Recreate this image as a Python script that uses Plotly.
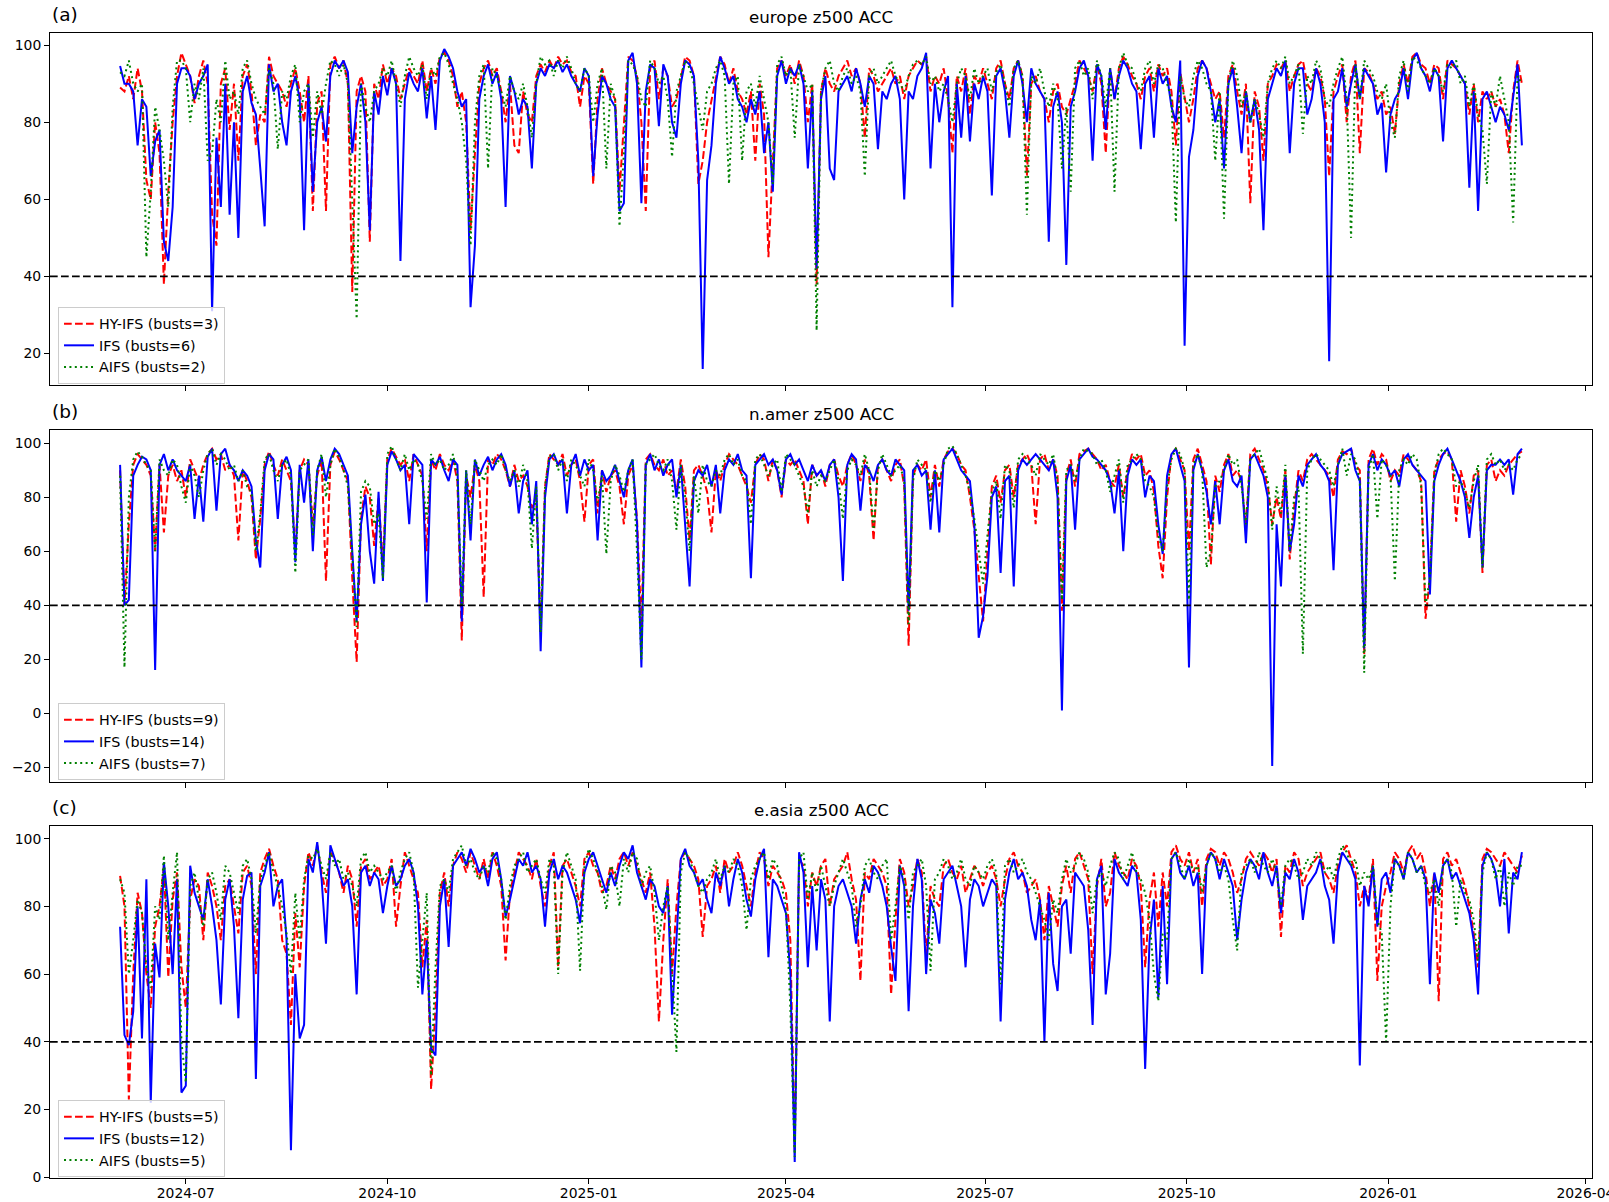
import pandas as pd
import plotly.graph_objects as go

# ---------------- data ----------------
START = "2024-06-01"      # first verification date
STEP_DAYS = 2             # values sampled every 2 days
THRESHOLD = 40            # bust threshold

regions = ["europe", "n.amer", "e.asia"]
panel_tags = ["(a)", "(b)", "(c)"]
models = ["HY-IFS", "IFS", "AIFS"]
busts_hyifs = [3, 9, 5]
busts_ifs = [6, 14, 12]
busts_aifs = [2, 7, 5]

# ---- europe ----
europe_hyifs = [
    89, 88, 92, 86, 94, 88, 65, 60, 80, 72, 38, 62, 80, 92, 98, 95, 92, 85, 92, 96,
    90, 56, 48, 90, 94, 78, 90, 70, 92, 95, 88, 74, 82, 80, 97, 92, 90, 88, 84, 90,
    94, 88, 80, 92, 57, 85, 88, 57, 95, 97, 94, 96, 90, 36, 88, 92, 88, 49, 90, 86,
    95, 90, 94, 92, 86, 90, 94, 92, 90, 96, 88, 94, 90, 97, 98, 96, 92, 84, 88, 80,
    52, 72, 90, 94, 96, 92, 94, 88, 80, 90, 74, 72, 88, 82, 80, 92, 95, 93, 96, 94,
    97, 95, 96, 93, 92, 84, 92, 90, 64, 86, 94, 90, 88, 86, 62, 80, 97, 96, 92, 80,
    57, 94, 96, 86, 94, 92, 84, 86, 92, 97, 96, 92, 64, 70, 80, 86, 92, 97, 95, 90,
    94, 88, 86, 82, 88, 70, 90, 82, 45, 70, 94, 96, 92, 95, 90, 96, 92, 80, 90, 38,
    88, 94, 90, 88, 92, 94, 96, 92, 94, 90, 76, 94, 92, 88, 90, 92, 94, 90, 92, 86,
    92, 94, 96, 95, 97, 88, 92, 90, 94, 86, 72, 92, 88, 94, 82, 92, 90, 94, 90, 86,
    94, 96, 90, 86, 94, 96, 92, 66, 90, 92, 88, 86, 80, 88, 90, 84, 82, 86, 90, 96,
    94, 92, 88, 95, 90, 72, 94, 86, 94, 97, 95, 92, 90, 86, 92, 94, 88, 95, 92, 94,
    88, 74, 93, 86, 80, 86, 94, 96, 94, 90, 86, 88, 76, 92, 95, 88, 82, 90, 59, 88,
    84, 70, 90, 92, 95, 94, 96, 88, 92, 95, 96, 90, 88, 94, 92, 86, 66, 88, 92, 95,
    80, 92, 96, 72, 94, 93, 90, 86, 88, 82, 84, 77, 90, 95, 90, 97, 98, 95, 94, 90,
    95, 94, 86, 96, 95, 94, 92, 90, 82, 90, 80, 88, 86, 88, 84, 86, 82, 72, 88, 96,
    90]
europe_ifs = [
    94.6, 90, 90, 88, 74, 86, 84, 66, 75, 78, 49, 44, 58, 90, 94, 94, 92, 86, 90, 92,
    95, 31, 76, 58, 90, 56, 80, 50, 88, 92, 85, 82, 68, 53, 95, 88, 90, 80, 74, 88,
    92, 86, 52, 90, 62, 80, 84, 75, 92, 96, 94, 96, 93, 72, 84, 90, 80, 52, 88, 82,
    92, 87, 94, 90, 44, 86, 93, 90, 88, 94, 81, 92, 78, 96, 99, 97, 94, 88, 84, 86,
    32, 48, 86, 92, 95, 90, 93, 86, 58, 92, 88, 82, 86, 84, 68, 90, 94, 92, 95, 94,
    96, 93, 95, 92, 90, 88, 94, 92, 66, 82, 92, 90, 86, 84, 57, 59, 96, 98, 90, 59,
    88, 95, 94, 79, 95, 92, 80, 76, 90, 96, 95, 92, 70, 16, 65, 74, 90, 97, 94, 90,
    92, 86, 84, 80, 86, 82, 88, 72, 80, 62, 92, 96, 90, 94, 92, 95, 90, 68, 88, 42,
    86, 92, 68, 65, 88, 90, 92, 88, 94, 90, 84, 92, 90, 73, 88, 86, 90, 92, 86, 60,
    88, 86, 92, 94, 98, 68, 90, 80, 88, 92, 32, 90, 76, 92, 75, 90, 86, 92, 88, 61,
    92, 94, 88, 76, 92, 96, 90, 80, 94, 90, 88, 86, 49, 84, 88, 80, 43, 84, 88, 94,
    96, 92, 70, 95, 92, 78, 94, 86, 92, 96, 94, 90, 88, 73, 90, 92, 76, 94, 90, 92,
    84, 80, 96, 22, 71, 78, 92, 96, 94, 88, 80, 86, 68, 90, 94, 84, 72, 88, 80, 86,
    78, 52, 86, 90, 94, 92, 96, 72, 90, 94, 94, 82, 86, 94, 90, 80, 18, 86, 88, 94,
    84, 90, 95, 86, 94, 92, 90, 82, 85, 67, 82, 86, 88, 94, 86, 96, 98, 94, 92, 88,
    94, 92, 75, 94, 96, 94, 92, 90, 63, 88, 57, 86, 88, 84, 80, 84, 82, 78, 86, 95,
    74]
europe_aifs = [
    93, 92, 96, 90, 88, 90, 45, 62, 84, 78, 70, 58, 84, 96, 96, 94, 80, 90, 86, 94,
    70, 72, 86, 80, 96, 86, 88, 82, 94, 96, 90, 86, 84, 82, 94, 90, 73, 88, 86, 92,
    95, 80, 88, 90, 76, 88, 82, 90, 96, 95, 92, 95, 90, 60, 29, 90, 84, 80, 88, 90,
    94, 92, 96, 90, 84, 92, 97, 94, 92, 95, 86, 94, 92, 97, 98, 95, 90, 86, 80, 70,
    48, 80, 92, 95, 68, 94, 92, 88, 84, 92, 88, 86, 90, 84, 76, 90, 97, 95, 96, 92,
    96, 94, 97, 94, 90, 88, 94, 92, 80, 90, 94, 68, 90, 86, 53, 72, 96, 95, 92, 86,
    84, 96, 94, 90, 92, 86, 71, 88, 92, 96, 94, 90, 84, 78, 88, 90, 94, 96, 92, 64,
    90, 92, 70, 88, 90, 84, 92, 86, 80, 64, 95, 97, 92, 94, 76, 95, 92, 88, 90, 26,
    88, 94, 96, 90, 88, 92, 94, 90, 92, 88, 66, 92, 94, 90, 92, 94, 96, 92, 90, 88,
    92, 95, 96, 95, 97, 90, 92, 88, 90, 86, 80, 90, 94, 92, 86, 94, 90, 92, 94, 88,
    93, 95, 90, 84, 94, 96, 92, 56, 92, 90, 94, 88, 84, 90, 86, 68, 84, 62, 94, 96,
    92, 94, 86, 96, 92, 84, 94, 62, 94, 98, 95, 94, 90, 88, 94, 96, 90, 95, 94, 90,
    86, 54, 92, 86, 84, 92, 96, 94, 90, 88, 70, 88, 55, 90, 96, 92, 84, 88, 80, 86,
    82, 76, 90, 94, 96, 94, 97, 90, 92, 95, 77, 92, 90, 96, 94, 86, 84, 90, 94, 97,
    86, 50, 95, 86, 96, 94, 92, 88, 86, 90, 80, 76, 92, 96, 88, 97, 96, 94, 92, 90,
    94, 92, 88, 95, 94, 96, 90, 92, 84, 90, 82, 78, 64, 88, 84, 92, 86, 80, 54, 92,
    90]

# ---- n.amer ----
namer_hyifs = [
    90, 40, 70, 92, 96, 94, 92, 88, 60, 92, 67, 88, 92, 86, 90, 80, 94, 90, 86, 92,
    96, 98, 94, 96, 90, 92, 88, 64, 90, 86, 80, 57, 72, 92, 97, 92, 88, 94, 90, 86,
    60, 90, 94, 92, 70, 88, 94, 49, 92, 97, 94, 90, 86, 50, 19, 72, 84, 80, 62, 80,
    55, 94, 98, 95, 92, 94, 86, 96, 92, 88, 60, 94, 90, 96, 92, 90, 94, 86, 27, 88,
    80, 92, 86, 43, 94, 92, 96, 94, 90, 84, 92, 86, 88, 84, 76, 80, 30, 84, 96, 94,
    92, 96, 88, 92, 94, 86, 71, 92, 94, 74, 90, 82, 88, 90, 84, 70, 88, 92, 72, 32,
    94, 96, 92, 90, 94, 88, 90, 82, 94, 84, 64, 90, 92, 88, 82, 67, 90, 86, 92, 96,
    94, 92, 88, 84, 78, 92, 96, 94, 86, 94, 90, 80, 94, 92, 94, 90, 86, 70, 92, 88,
    90, 84, 92, 94, 88, 84, 92, 96, 92, 86, 94, 88, 64, 92, 94, 90, 86, 92, 94, 84,
    25, 88, 92, 90, 94, 80, 92, 84, 94, 97, 98, 96, 92, 90, 80, 68, 50, 34, 60, 84,
    88, 78, 90, 92, 80, 92, 94, 96, 92, 70, 94, 96, 90, 94, 88, 38, 88, 94, 84, 96,
    97, 98, 96, 94, 90, 92, 86, 84, 92, 80, 90, 96, 94, 96, 88, 90, 82, 62, 50, 80,
    96, 98, 94, 90, 60, 94, 98, 92, 86, 55, 88, 82, 92, 96, 88, 90, 86, 69, 96, 98,
    94, 90, 84, 70, 80, 72, 90, 57, 76, 90, 86, 94, 96, 94, 92, 90, 88, 80, 94, 97,
    96, 98, 92, 90, 22, 94, 98, 92, 96, 94, 86, 90, 88, 96, 94, 92, 90, 86, 35, 50,
    90, 94, 96, 97, 94, 71, 90, 84, 74, 88, 90, 52, 92, 94, 86, 90, 88, 92, 94, 96,
    97]
namer_ifs = [
    92, 40, 42, 88, 92, 95, 94, 90, 16, 92, 96, 90, 94, 90, 88, 86, 92, 72, 88, 71,
    95, 98, 75, 96, 98, 92, 90, 86, 90, 88, 84, 64, 54, 90, 96, 94, 72, 92, 95, 90,
    56, 92, 78, 94, 60, 90, 95, 86, 94, 98, 96, 92, 88, 60, 34, 70, 81, 60, 48, 82,
    49, 92, 97, 94, 90, 92, 70, 96, 94, 92, 41, 94, 92, 95, 90, 86, 94, 92, 34, 90,
    64, 94, 88, 92, 95, 90, 94, 96, 92, 84, 90, 74, 86, 90, 70, 86, 23, 80, 94, 96,
    92, 94, 74, 92, 96, 88, 94, 90, 92, 64, 90, 86, 88, 92, 86, 80, 90, 94, 70, 17,
    92, 96, 90, 94, 88, 92, 94, 80, 92, 70, 47, 86, 90, 88, 92, 84, 92, 74, 90, 94,
    92, 96, 90, 88, 50, 92, 94, 96, 92, 94, 90, 81, 94, 96, 92, 94, 90, 86, 92, 88,
    90, 86, 92, 94, 80, 49, 92, 96, 94, 75, 92, 90, 86, 92, 94, 90, 88, 94, 92, 90,
    38, 90, 92, 88, 90, 68, 90, 67, 94, 96, 98, 94, 90, 88, 86, 70, 28, 36, 51, 80,
    84, 52, 86, 88, 47, 90, 94, 92, 94, 96, 94, 92, 90, 94, 80, 1, 86, 92, 68, 94,
    96, 98, 95, 94, 92, 90, 86, 74, 90, 60, 88, 94, 92, 94, 80, 88, 86, 70, 59, 88,
    96, 98, 92, 86, 17, 90, 96, 90, 82, 70, 86, 70, 90, 94, 86, 84, 88, 63, 94, 96,
    92, 88, 80, -19.5, 70, 47, 88, 60, 70, 88, 84, 92, 94, 96, 92, 90, 86, 53, 92, 96,
    97, 98, 90, 86, 24, 92, 96, 90, 94, 92, 88, 90, 84, 94, 96, 92, 90, 88, 86, 44,
    86, 92, 96, 98, 94, 90, 86, 80, 65, 80, 88, 54, 90, 92, 92, 94, 92, 94, 81, 96,
    98]
namer_aifs = [
    88, 17, 80, 94, 97, 95, 92, 90, 60, 94, 90, 88, 94, 92, 84, 78, 92, 88, 80, 90,
    96, 98, 92, 96, 94, 90, 92, 86, 90, 84, 82, 60, 74, 94, 96, 90, 86, 92, 94, 88,
    52, 90, 92, 94, 66, 90, 96, 80, 92, 98, 95, 90, 84, 60, 32, 82, 86, 84, 70, 74,
    50, 96, 99, 94, 90, 96, 90, 94, 92, 86, 72, 96, 92, 94, 90, 92, 96, 88, 40, 90,
    70, 94, 90, 86, 92, 94, 92, 96, 90, 86, 90, 84, 92, 86, 61, 84, 30, 84, 95, 96,
    90, 94, 86, 94, 92, 88, 84, 94, 90, 78, 88, 59, 86, 92, 88, 82, 90, 94, 60, 20,
    92, 94, 96, 92, 90, 94, 86, 68, 92, 80, 60, 88, 74, 92, 86, 84, 90, 88, 94, 96,
    92, 94, 88, 86, 70, 94, 96, 92, 88, 92, 94, 82, 96, 94, 92, 88, 84, 74, 90, 84,
    88, 86, 90, 94, 86, 72, 90, 94, 92, 88, 96, 90, 68, 90, 96, 92, 88, 90, 92, 86,
    33, 86, 94, 92, 90, 78, 90, 86, 92, 98, 99, 96, 92, 88, 82, 72, 60, 48, 66, 82,
    86, 72, 92, 90, 76, 94, 96, 94, 92, 88, 96, 94, 92, 96, 86, 42, 90, 92, 86, 94,
    98, 97, 96, 92, 94, 90, 82, 88, 94, 78, 92, 94, 96, 94, 86, 84, 80, 66, 60, 84,
    94, 98, 96, 90, 42, 92, 96, 90, 54, 60, 84, 86, 90, 96, 92, 94, 84, 70, 94, 96,
    98, 92, 86, 68, 84, 74, 92, 60, 80, 84, 22, 90, 94, 96, 94, 92, 90, 84, 92, 98,
    88, 96, 94, 86, 15, 90, 96, 72, 94, 92, 88, 49, 90, 94, 92, 96, 94, 84, 40, 50,
    88, 96, 98, 96, 94, 84, 86, 82, 76, 86, 92, 54, 94, 96, 92, 94, 90, 92, 90, 94,
    96]

# ---- e.asia ----
easia_hyifs = [
    89, 80, 23, 60, 84, 78, 60, 50, 74, 80, 92, 59, 82, 90, 62, 50, 82, 88, 86, 70,
    90, 86, 80, 70, 86, 88, 80, 72, 90, 92, 86, 60, 90, 94, 97, 92, 88, 70, 66, 45,
    78, 62, 86, 96, 92, 98, 90, 84, 96, 94, 90, 84, 92, 88, 74, 92, 94, 88, 90, 92,
    86, 88, 94, 74, 86, 96, 92, 88, 84, 62, 76, 26, 50, 84, 90, 80, 92, 96, 94, 90,
    96, 92, 88, 94, 88, 96, 92, 86, 64, 84, 90, 96, 94, 92, 88, 94, 86, 80, 92, 96,
    62, 92, 94, 90, 86, 80, 94, 96, 92, 90, 84, 86, 92, 88, 94, 96, 92, 96, 92, 88,
    84, 90, 74, 46, 70, 88, 60, 80, 94, 96, 94, 92, 88, 71, 86, 88, 92, 84, 94, 90,
    92, 96, 92, 86, 80, 90, 96, 94, 86, 92, 90, 88, 84, 70, 8, 94, 92, 80, 90, 86,
    92, 94, 80, 88, 90, 92, 96, 88, 82, 58, 90, 88, 94, 92, 90, 86, 54, 76, 94, 90,
    80, 86, 94, 90, 65, 86, 82, 80, 92, 94, 90, 88, 92, 84, 88, 92, 90, 86, 90, 92,
    88, 80, 88, 94, 96, 92, 90, 84, 86, 88, 82, 70, 86, 80, 74, 86, 92, 84, 94, 96,
    92, 88, 60, 86, 94, 80, 84, 96, 92, 90, 88, 94, 92, 86, 62, 82, 90, 74, 90, 80,
    96, 98, 94, 92, 96, 90, 94, 80, 94, 97, 96, 92, 96, 94, 90, 84, 88, 94, 96, 94,
    92, 96, 94, 90, 94, 71, 92, 90, 96, 94, 86, 90, 92, 94, 96, 90, 88, 84, 92, 96,
    98, 94, 90, 80, 86, 82, 94, 58, 80, 86, 90, 96, 94, 90, 96, 98, 94, 96, 90, 80,
    90, 52, 94, 96, 92, 94, 90, 86, 80, 72, 62, 94, 97, 96, 94, 92, 96, 94, 92, 90,
    95]
easia_ifs = [
    74, 42, 39, 49, 80, 41, 88, 22, 69, 59, 93, 80, 60, 88, 25, 27, 92, 84, 80, 76,
    88, 80, 70, 51, 82, 88, 74, 47, 82, 89, 90, 29, 86, 90, 96, 80, 86, 88, 70, 8,
    60, 41, 45, 94, 90, 99, 88, 69, 98, 94, 90, 86, 88, 80, 54, 90, 92, 86, 90, 88,
    78, 86, 92, 86, 88, 92, 94, 90, 80, 54, 70, 38, 36, 80, 88, 68, 92, 94, 96, 92,
    97, 94, 90, 92, 86, 94, 96, 88, 77, 82, 88, 94, 92, 96, 90, 92, 88, 74, 90, 94,
    88, 92, 90, 86, 82, 75, 90, 94, 96, 92, 88, 84, 90, 86, 92, 96, 94, 98, 90, 86,
    82, 88, 86, 80, 78, 86, 48, 70, 94, 97, 92, 90, 86, 88, 82, 78, 90, 86, 92, 80,
    88, 94, 90, 82, 77, 88, 94, 97, 65, 88, 86, 82, 78, 60, 4.5, 96, 90, 62, 86, 67,
    88, 82, 46, 80, 86, 88, 84, 80, 69, 82, 88, 84, 92, 90, 86, 80, 68, 58, 92, 86,
    49, 80, 94, 88, 60, 82, 78, 69, 88, 90, 92, 86, 80, 62, 82, 88, 86, 80, 84, 88,
    86, 46, 82, 90, 94, 88, 90, 86, 76, 70, 82, 40, 84, 63, 55, 80, 82, 66, 90, 88,
    86, 73, 45, 88, 92, 54, 66, 94, 90, 88, 86, 92, 90, 76, 32, 70, 82, 53, 86, 57,
    94, 96, 90, 88, 92, 86, 90, 60, 92, 96, 94, 88, 94, 90, 86, 70, 82, 90, 94, 92,
    88, 96, 90, 86, 92, 78, 90, 88, 94, 90, 76, 86, 88, 90, 94, 86, 82, 69, 90, 96,
    94, 92, 88, 33, 86, 80, 92, 74, 88, 90, 84, 94, 92, 88, 96, 94, 90, 92, 88, 57,
    90, 84, 92, 94, 88, 90, 86, 82, 78, 70, 54, 92, 96, 94, 90, 80, 94, 72, 90, 88,
    96]
easia_aifs = [
    88, 84, 60, 70, 82, 78, 62, 56, 80, 76, 95, 70, 84, 96, 40, 28, 86, 90, 82, 74,
    88, 90, 84, 76, 92, 90, 84, 78, 92, 94, 88, 72, 88, 92, 96, 90, 86, 80, 72, 60,
    84, 70, 88, 95, 94, 97, 92, 88, 96, 92, 94, 88, 90, 86, 80, 94, 96, 90, 92, 90,
    88, 90, 92, 84, 90, 94, 96, 90, 56, 70, 84, 30, 62, 86, 88, 84, 94, 96, 98, 92,
    94, 90, 88, 92, 90, 96, 94, 88, 76, 86, 92, 94, 96, 90, 92, 94, 88, 84, 94, 92,
    60, 90, 96, 92, 88, 61, 92, 97, 94, 90, 86, 79, 92, 90, 80, 94, 90, 96, 94, 86,
    90, 92, 84, 70, 80, 86, 60, 37, 90, 96, 94, 90, 86, 84, 88, 90, 94, 88, 92, 90,
    94, 92, 86, 73, 88, 92, 94, 96, 88, 94, 92, 86, 80, 50, 6, 94, 96, 82, 90, 84,
    92, 86, 80, 86, 90, 94, 90, 86, 74, 80, 92, 94, 90, 88, 92, 94, 70, 80, 92, 88,
    76, 90, 92, 94, 86, 61, 88, 90, 94, 92, 88, 90, 94, 88, 86, 92, 90, 88, 92, 94,
    90, 57, 92, 94, 90, 92, 94, 90, 88, 84, 80, 76, 70, 82, 78, 88, 94, 90, 92, 96,
    94, 90, 78, 88, 90, 86, 92, 96, 94, 88, 92, 96, 90, 88, 84, 76, 60, 52, 72, 70,
    94, 96, 92, 88, 94, 90, 92, 84, 92, 96, 94, 90, 92, 88, 76, 67, 90, 92, 94, 90,
    96, 92, 90, 94, 90, 80, 92, 94, 92, 88, 90, 94, 92, 96, 94, 90, 92, 88, 94, 98,
    96, 92, 94, 86, 90, 88, 92, 76, 72, 40, 80, 94, 92, 88, 96, 94, 90, 92, 86, 84,
    88, 80, 92, 94, 90, 74, 88, 84, 82, 76, 64, 90, 96, 94, 88, 92, 80, 90, 86, 92,
    92]

panels = [
    (europe_hyifs, europe_ifs, europe_aifs),
    (namer_hyifs, namer_ifs, namer_aifs),
    (easia_hyifs, easia_ifs, easia_aifs),
]

# ---------------- styling ----------------
FONT = "DejaVu Sans"
W, H = 1609, 1202
ML, MR, MT, MB = 50, 17, 33, 24
domains = [[0.6926, 1.0], [0.3459, 0.6533], [0.0, 0.3074]]
legend_y = [0.6935, 0.3476, 0.0009]
styles = [
    dict(color="#ff0000", width=2, dash="7.7px,3.3px"),
    dict(color="#0000ff", width=2, dash="solid"),
    dict(color="#008000", width=2, dash="2px,3.4px"),
]
bust_lists = [busts_hyifs, busts_ifs, busts_aifs]


def dates_for(vals):
    return pd.date_range(START, periods=len(vals), freq=f"{STEP_DAYS}D")


fig = go.Figure()
layout = dict(
    width=W, height=H, autosize=False,
    margin=dict(l=ML, r=MR, t=MT, b=MB, pad=0, autoexpand=False),
    paper_bgcolor="white", plot_bgcolor="white",
    font=dict(family=FONT, size=13.9, color="black"),
    showlegend=True,
)
annotations = []
shapes = []

all_dates = [d for p in panels for s in p for d in dates_for(s)]
dmin, dmax = min(all_dates), max(all_dates)
span = dmax - dmin
xr = [dmin - 0.05 * span, dmax + 0.05 * span]

for k, (region, tag, series) in enumerate(zip(regions, panel_tags, panels)):
    sfx = "" if k == 0 else str(k + 1)
    leg = "legend" + sfx
    for m, (name, vals) in enumerate(zip(models, series)):
        fig.add_trace(go.Scatter(
            x=dates_for(vals), y=vals, mode="lines",
            name=f"{name} (busts={bust_lists[m][k]})",
            line=styles[m], xaxis="x" + sfx, yaxis="y" + sfx, legend=leg,
        ))
    vmin = min(min(s) for s in series)
    vmax = max(max(s) for s in series)
    vr = vmax - vmin
    layout["xaxis" + sfx] = dict(
        domain=[0, 1], anchor="y" + sfx, type="date", range=xr,
        automargin=False,
        showgrid=False, zeroline=False, showline=True, mirror=True,
        linecolor="black", linewidth=1, ticks="outside", ticklen=5,
        tickwidth=1, tickcolor="black", dtick="M3", tick0="2024-07-01",
        tickformat="%Y-%m", showticklabels=(k == 2),
        ticklabeloverflow="allow", ticklabelstandoff=-3,
        tickfont=dict(family=FONT, size=13.9, color="black"),
        matches=None if k == 0 else "x",
    )
    layout["yaxis" + sfx] = dict(
        domain=domains[k], anchor="x" + sfx,
        range=[vmin - 0.05 * vr, vmax + 0.05 * vr],
        automargin=False,
        showgrid=False, zeroline=False, showline=True, mirror=True,
        linecolor="black", linewidth=1, ticks="outside", ticklen=5,
        tickwidth=1, tickcolor="black", dtick=20, tick0=0,
        tickfont=dict(family=FONT, size=13.9, color="black"),
    )
    layout[leg] = dict(
        x=0.0052, xanchor="left", y=legend_y[k], yanchor="bottom",
        bgcolor="rgba(255,255,255,0.8)", bordercolor="#cccccc", borderwidth=1,
        font=dict(family=FONT, size=14.3, color="black"),
        tracegroupgap=0,
    )
    shapes.append(dict(
        type="line", xref=("x" + sfx) + " domain", x0=0, x1=1,
        yref="y" + sfx, y0=THRESHOLD, y1=THRESHOLD,
        line=dict(color="black", width=1.8, dash="7.7px,3.3px"), layer="above",
    ))
    annotations.append(dict(
        text=f"{region} z500 ACC", xref="paper", yref="paper",
        x=0.5, y=domains[k][1], xanchor="center", yanchor="bottom",
        yshift=4, showarrow=False,
        font=dict(family=FONT, size=16.7, color="black"),
    ))
    annotations.append(dict(
        text=tag, xref="paper", yref="paper",
        x=0, y=domains[k][1], xanchor="left", yanchor="bottom",
        yshift=6, showarrow=False,
        font=dict(family=FONT, size=18.5, color="black"),
    ))

layout["annotations"] = annotations
layout["shapes"] = shapes
fig.update_layout(**layout)
fig.write_html("out.html")
